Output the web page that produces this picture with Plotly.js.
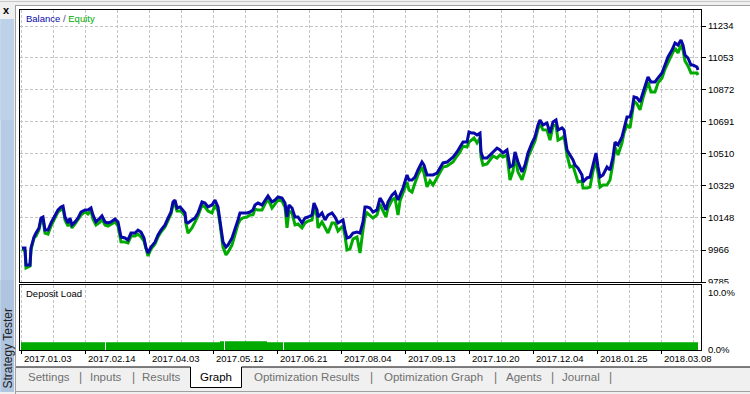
<!DOCTYPE html>
<html><head><meta charset="utf-8">
<script src="https://cdn.plot.ly/plotly-3.0.1.min.js"></script>
<style>html,body{margin:0;padding:0;background:#f0f0f0;overflow:hidden}#chart{width:750px;height:394px}</style>
</head><body><div id="chart"></div>
<script>
// ---- data (x = deal number) ----
const deals = [0,3,4,8,9,12,14,17,19,21,23,26,29,33,36,39,41,43,46,48,50,53,56,59,63,66,69,71,74,78,80,83,86,89,93,96,99,103,106,109,113,116,119,122,124,126,129,133,136,139,143,146,149,151,153,155,158,159,163,164,
166,170,173,176,180,183,186,190,193,196,198,200,201,204,206,210,213,216,218,221,225,228,231,233,236,240,243,246,250,253,256,260,263,265,267,270,273,276,280,283,286,290,292,295,296,300,303,306,310,313,316,318,321,323,325,328,331,335,338,
341,343,345,348,351,355,358,361,364,366,370,373,376,378,381,385,387,390,393,396,400,402,405,408,411,415,418,421,425,428,431,435,438,441,445,447,450,452,455,458,459,461,465,468,471,475,478,481,485,488,491,493,496,500,503,506,
510,513,516,518,521,525,528,531,534,536,540,542,545,548,551,553,556,560,561,565,568,571,574,576,578,581,585,588,591,593,596,600,602,605,608,610,612,615,618,621,624,626,629,633,636,640,643,646,650,653,656,659,661,663,666,669,671,675,676];
const balance = [9978,9978,9881,9881,9978,10040,10062,10091,10147,10153,10079,10079,10119,10164,10193,10210,10215,10153,10119,10147,10108,10125,10147,10181,10193,10193,10204,10164,10125,10147,10159,10125,10119,10125,10142,10125,10040,10034,10023,10062,10062,10079,10068,10034,9978,9949,9983,10011,10051,10079,10108,10147,10181,10238,10249,10204,10210,10204,10176,10125,
10119,10136,10147,10176,10238,10232,10210,10221,10249,10210,10136,10062,10011,9983,9994,10034,10079,10136,10176,10176,10176,10181,10193,10221,10232,10221,10249,10272,10238,10249,10266,10260,10232,10153,10221,10204,10153,10153,10119,10147,10153,10164,10232,10193,10153,10176,10136,10164,10176,10153,10119,10125,10136,10079,10034,10040,10062,10068,10062,
10125,10210,10210,10204,10181,10193,10260,10232,10193,10238,10277,10294,10249,10277,10317,10391,10362,10362,10379,10419,10464,10447,10391,10391,10391,10402,10430,10459,10464,10481,10492,10521,10549,10577,10577,10634,10628,10628,10617,10628,10521,10487,10487,10504,10521,10543,10532,10515,10532,10436,10447,10521,10464,10408,10447,10515,
10572,10606,10674,10702,10674,10685,10628,10691,10702,10645,10657,10645,10532,10504,10476,10447,10430,10391,10351,10374,10379,10447,10515,10436,10379,10391,10436,10419,10492,10577,10561,10606,10657,10719,10719,10759,10832,10827,10804,10855,10911,10945,10917,10917,10940,10968,11013,11059,11098,11138,11126,11155,11126,11070,11053,11013,11013,11002,10985];
const equity = [9972,9961,9864,9875,9967,10034,10045,10080,10136,10136,10062,10056,10102,10147,10182,10193,10204,10136,10102,10124,10091,10114,10136,10164,10182,10170,10187,10141,10108,10124,10142,10108,10102,10114,10125,10102,10012,10011,10006,10045,10045,10056,10040,10017,9967,9932,9972,10000,10040,10068,10097,10130,10170,10221,10226,10187,10187,10187,10159,10114,
10062,10091,10124,10159,10221,10209,10187,10176,10221,10187,10113,10039,9983,9938,9954,9994,10051,10113,10136,10148,10153,10164,10165,10198,10192,10193,10226,10255,10204,10226,10249,10243,10209,10091,10187,10176,10108,10113,10091,10119,10130,10136,10204,10159,10091,10125,10091,10062,10119,10119,10074,10085,10102,10045,9966,9972,10028,10040,9949,
10080,10153,10176,10164,10147,10165,10226,10187,10153,10204,10249,10260,10164,10243,10294,10351,10305,10294,10345,10391,10436,10402,10323,10357,10334,10374,10407,10436,10441,10453,10464,10498,10521,10554,10549,10577,10594,10600,10572,10600,10493,10447,10453,10476,10498,10486,10504,10492,10504,10362,10413,10498,10407,10363,10419,10492,
10549,10583,10651,10679,10646,10645,10588,10668,10674,10588,10600,10611,10504,10436,10442,10402,10351,10357,10317,10317,10322,10413,10470,10402,10322,10334,10334,10362,10458,10549,10504,10572,10629,10674,10657,10731,10809,10793,10759,10827,10888,10917,10860,10860,10912,10940,10990,11031,11075,11110,11081,11127,11098,11036,11008,10968,10968,10968,10957];
const loadDeals = [-1, 83, 84, 198, 202, 203, 245, 261, 262, 676];
const loadPct   = [1.35, 0, 1.35, 1.52, 0, 1.52, 1.35, 0, 1.35, 1.35];
const balanceTicks = [9785, 9966, 10148, 10329, 10510, 10691, 10872, 11053, 11234];
const loadTicks = [0, 10];
const loadTickText = ['0.0%', '10.0%'];
const dateTickDeals = [-0.5, 63.5, 127.5, 191.5, 255.5, 319.5, 383.5, 447.5, 511.5, 575.5, 639.5];
const dateLabels = ['2017.01.03','2017.02.14','2017.04.03','2017.05.12','2017.06.21','2017.08.04','2017.09.13','2017.10.20','2017.12.04','2018.01.25','2018.03.08'];
const tabLabels = ['Settings','Inputs','Results','Graph','Optimization Results','Optimization Graph','Agents','Journal'];

// ---- layout helpers (pixel -> paper) ----
const L = 20, R = 701, T = 10, B = 350, W = R - L, H = B - T;
const px = p => (p - L) / W;
const py = q => (B - q) / H;
const FONT = 'Liberation Sans, Arial, sans-serif';
const GRID = '#c4c4c4', DASH = '3px,2px';
const tabX = [49, 106.5, 161.7, 216, 306.5, 433.3, 523.5, 581];
const sepX = [80.7, 133, 371.7, 495, 552.7, 610.7];

const traces = [
  {x: deals, y: equity, xaxis: 'x', yaxis: 'y', mode: 'lines', name: 'Equity',
   line: {color: '#00aa00', width: 3, shape: 'linear'}},
  {x: deals, y: balance, xaxis: 'x', yaxis: 'y', mode: 'lines', name: 'Balance',
   line: {color: '#0808a8', width: 3, shape: 'linear'}},
  {x: loadDeals, y: loadPct, xaxis: 'x2', yaxis: 'y2', mode: 'lines', name: 'Deposit Load',
   fill: 'tozeroy', fillcolor: '#00aa00', line: {width: 0, shape: 'hv', color: '#00aa00'}}
];

const xCommon = {
  range: [-2, 679], showline: true, mirror: true, linecolor: '#000', linewidth: 1,
  zeroline: false, showgrid: true, gridcolor: GRID, griddash: DASH, gridwidth: 1,
  showticklabels: false, fixedrange: true
};

const annotations = [];
annotations.push({xref: 'paper', yref: 'paper', x: px(24), y: py(18), xanchor: 'left', yanchor: 'middle', showarrow: false,
  text: '<span style="color:#0a0aa8">Balance</span><span style="color:#404890"> / </span><span style="color:#00aa00">Equity</span>',
  font: {family: FONT, size: 9.5}});
annotations.push({xref: 'paper', yref: 'paper', x: px(24), y: py(293), xanchor: 'left', yanchor: 'middle', showarrow: false,
  text: 'Deposit Load', font: {family: FONT, size: 9.5, color: '#000'}});
dateLabels.forEach((t, i) => annotations.push({xref: 'x2', yref: 'paper', x: dateTickDeals[i], y: py(358.5),
  xanchor: 'left', yanchor: 'middle', showarrow: false, text: t, font: {family: FONT, size: 9.5, color: '#000'}}));
tabLabels.forEach((t, i) => annotations.push({xref: 'paper', yref: 'paper', x: px(tabX[i]), y: py(377),
  xanchor: 'center', yanchor: 'middle', showarrow: false, text: t,
  font: {family: FONT, size: 11.5, color: t === 'Graph' ? '#000' : '#707070'}}));
sepX.forEach(s => annotations.push({xref: 'paper', yref: 'paper', x: px(s), y: py(377), xanchor: 'center', yanchor: 'middle',
  showarrow: false, text: '|', font: {family: FONT, size: 12, color: '#707070'}}));
annotations.push({xref: 'paper', yref: 'paper', x: px(7.5), y: py(349), xanchor: 'center', yanchor: 'middle', showarrow: false,
  text: 'Strategy Tester', textangle: -90, font: {family: FONT, size: 12, color: '#222'}});
annotations.push({xref: 'paper', yref: 'paper', x: px(6.5), y: py(10.5), xanchor: 'center', yanchor: 'middle', showarrow: false,
  text: '<b>x</b>', font: {family: FONT, size: 11, color: '#000'}});

const rect = (x0, y0, x1, y1, fill, layer) => ({type: 'rect', xref: 'paper', yref: 'paper', x0: px(x0), x1: px(x1), y0: py(y1), y1: py(y0),
  fillcolor: fill, line: {width: 0}, layer: layer || 'below'});
const seg = (x0, y0, x1, y1, color) => ({type: 'line', xref: 'paper', yref: 'paper', x0: px(x0), x1: px(x1), y0: py(y0), y1: py(y1),
  line: {color: color, width: 1}, layer: 'above'});

const shapes = [
  rect(16, 6, 750, 367, '#ffffff'),
  rect(0.5, 19, 14, 392, '#b6cbe5'),
  rect(0.5, 19, 14, 120, '#bdd1e9'),
  rect(0.5, 280, 14, 392, '#aec4df'),
  seg(0, 1.5, 750, 1.5, '#c8c8c8'),
  seg(16, 5.5, 750, 5.5, '#a0a0a0'),
  seg(15.5, 5, 15.5, 394, '#a0a0a0'),
  seg(16, 391.5, 750, 391.5, '#a0a0a0'),
  rect(702, 283.6, 746, 286.5, '#ffffff', 'above'),
  rect(190.5, 367, 241.5, 387, '#ffffff', 'above'),
  seg(16, 367, 190.5, 367, '#000'),
  seg(241.5, 367, 750, 367, '#000'),
  seg(190.5, 367, 190.5, 387.5, '#000'),
  seg(241.5, 367, 241.5, 387.5, '#000'),
  seg(190.5, 387.5, 241.5, 387.5, '#000')
];

const layout = {
  width: 750, height: 394,
  margin: {l: L, r: 750 - R, t: T, b: 394 - B, pad: 0},
  paper_bgcolor: '#f0f0f0', plot_bgcolor: '#ffffff',
  showlegend: false, hovermode: false,
  font: {family: FONT, size: 9.5, color: '#000'},
  xaxis: Object.assign({}, xCommon, {anchor: 'y', domain: [0, 1], tickmode: 'linear', tick0: -0.5, dtick: 32, ticks: ''}),
  yaxis: {domain: [py(282), 1], anchor: 'x', range: [9785, 11324.6], side: 'right',
    tickmode: 'array', tickvals: balanceTicks, ticktext: balanceTicks.map(String),
    ticks: 'outside', ticklen: 4, tickcolor: '#000', tickwidth: 1,
    showgrid: true, gridcolor: GRID, griddash: DASH, gridwidth: 1,
    showline: true, mirror: true, linecolor: '#000', linewidth: 1, zeroline: false,
    tickfont: {family: FONT, size: 9.5, color: '#000'}, fixedrange: true},
  xaxis2: Object.assign({}, xCommon, {anchor: 'y2', domain: [0, 1], matches: 'x', tickmode: 'linear', tick0: -0.5, dtick: 64,
    ticks: 'outside', ticklen: 3, tickcolor: '#000', tickwidth: 1,
    minor: {tickmode: 'linear', tick0: -0.5, dtick: 32, showgrid: true, gridcolor: GRID, griddash: DASH, gridwidth: 1, ticks: ''}}),
  yaxis2: {domain: [0, py(284.5)], anchor: 'x2', range: [0, 11.45], side: 'right',
    tickmode: 'array', tickvals: loadTicks, ticktext: loadTickText,
    ticks: 'outside', ticklen: 4, tickcolor: 'rgba(0,0,0,0)',
    showgrid: false, showline: true, mirror: true, linecolor: '#000', linewidth: 1, zeroline: false,
    tickfont: {family: FONT, size: 9.5, color: '#000'}, fixedrange: true},
  annotations: annotations,
  shapes: shapes
};

Plotly.newPlot('chart', traces, layout, {displayModeBar: false, staticPlot: true});
</script>
</body></html>
